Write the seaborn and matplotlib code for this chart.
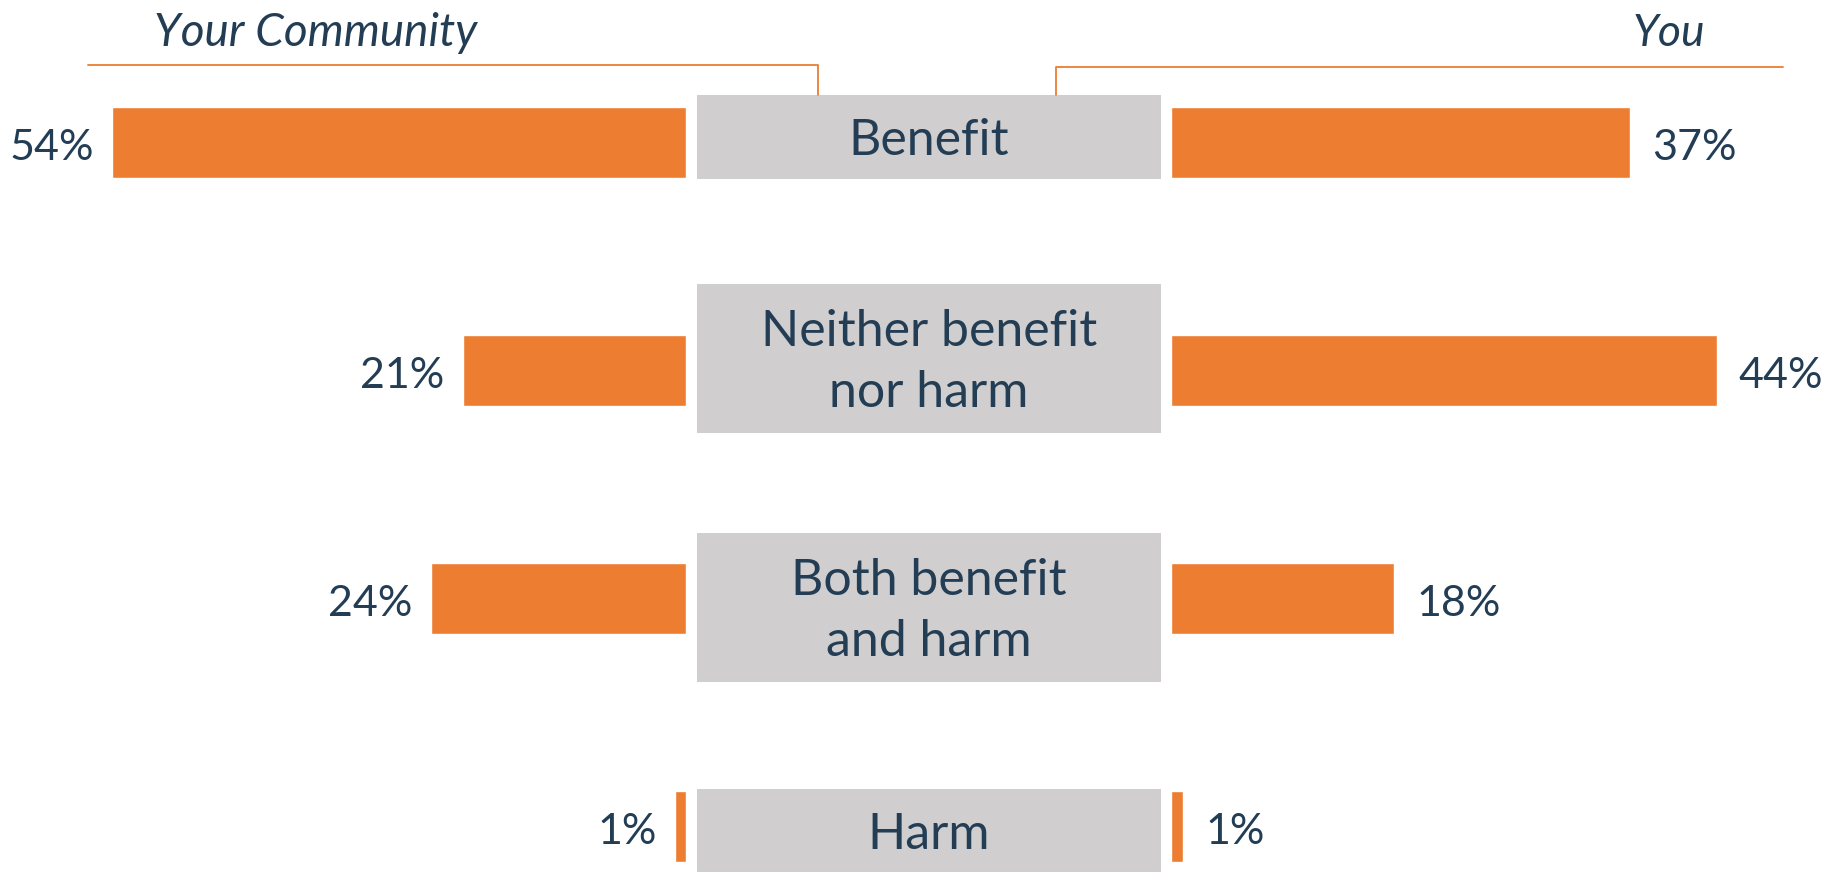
import matplotlib
matplotlib.use("Agg")
import matplotlib.pyplot as plt
import numpy as np
import pandas as pd
import seaborn as sns
from matplotlib.lines import Line2D

# ---------------- data ----------------
categories = ["Benefit", "Neither benefit\nnor harm", "Both benefit\nand harm", "Harm"]
community = [54, 21, 24, 1]
you = [37, 44, 18, 1]
left_title = "Your Community"
right_title = "You"

# ---------------- style ----------------
ORANGE = "#ED7D31"
GRAY = "#D0CECE"
NAVY = "#233D55"

W, H = 1835, 872
sns.set_theme(style="white")
plt.rcParams['font.family'] = ['Lato', 'DejaVu Sans']

fig = plt.figure(figsize=(W / 100, H / 100), dpi=100)

# rows: category centre i sits at pixel Y0 + STEP*i from the top
Y0, STEP = 142, 228
YLIM = ((H - Y0) / STEP, -Y0 / STEP)
BAR_H = 71 / STEP


def px_axes(x0, x1):
    ax = fig.add_axes([x0 / W, 0, (x1 - x0) / W, 1])
    ax.set_axis_off()
    return ax


df = pd.DataFrame({"category": categories, "community": community, "you": you})

# 왼쪽: Your Community (reversed axis)
ax_l = px_axes(0, 686)
sns.barplot(data=df, x="community", y="category", color=ORANGE, saturation=1,
            width=BAR_H, ax=ax_l)
ax_l.set_xlim(686 / 10.63, 0)
ax_l.set_ylim(YLIM)
ax_l.set_axis_off()
for i, v in enumerate(community):
    ax_l.annotate(f"{v}%", (v, i), xytext=(-13, -4), textcoords="offset points",
                  ha="right", va="center", fontsize=31, color=NAVY)

# 오른쪽: You
ax_r = px_axes(1171, W)
sns.barplot(data=df, x="you", y="category", color=ORANGE, saturation=1,
            width=BAR_H, ax=ax_r)
ax_r.set_xlim(0, (W - 1171) / 12.4)
ax_r.set_ylim(YLIM)
ax_r.set_axis_off()
for i, v in enumerate(you):
    ax_r.annotate(f"{v}%", (v, i), xytext=(16, -4), textcoords="offset points",
                  ha="left", va="center", fontsize=31, color=NAVY)

# 가운데: category boxes
ax_m = px_axes(697, 1161)
ax_m.set_xlim(0, 1)
ax_m.set_ylim(YLIM)
box_shift = [-5, -11.5, 9.5, 4.5]
for i, cat in enumerate(categories):
    n_lines = cat.count("\n") + 1
    h = (84 if n_lines == 1 else 149) / STEP
    yc = i + box_shift[i] / STEP
    ax_m.barh(yc, 1, height=h, left=0, color=GRAY, edgecolor="none")
    ax_m.text(0.5, yc + 4 / STEP, cat, ha="center", va="center", fontsize=36,
              color=NAVY, linespacing=1.38)

# header brackets
def fig_line(xs, ys):
    fig.add_artist(Line2D([x / W for x in xs], [1 - y / H for y in ys],
                          color=ORANGE, lw=1.3, transform=fig.transFigure))

fig_line([88, 818, 818], [65, 65, 95])
fig_line([1783, 1056, 1056], [67, 67, 95])
fig.text(316 / W, 1 - 33 / H, left_title, ha="center", va="center",
         fontsize=33, style="italic", color=NAVY)
fig.text(1705 / W, 1 - 33 / H, right_title, ha="right", va="center",
         fontsize=32, style="italic", color=NAVY)

fig.savefig("out.png", dpi=100)
